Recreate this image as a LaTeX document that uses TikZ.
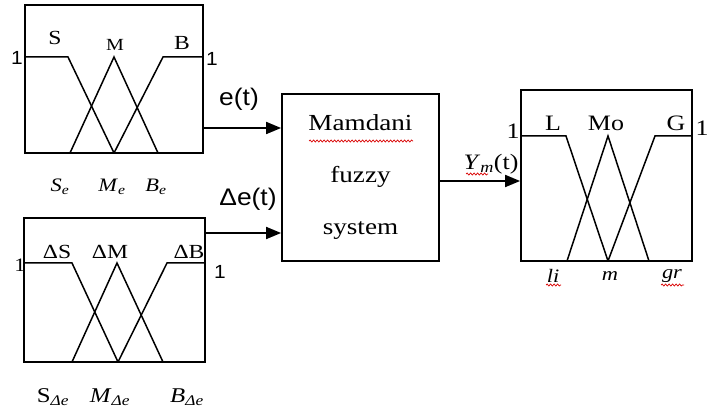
\documentclass[tikz,border=0pt]{standalone}
\usepackage{fontspec}
\setmainfont{Liberation Serif}[FakeStretch=1.18]
\newfontfamily\sigfont{Liberation Sans}[FakeStretch=1.1]
\usetikzlibrary{arrows.meta,decorations.pathmorphing}

\begin{document}
\begin{tikzpicture}[x=1pt, y=-1pt,
    plot/.style={draw, line width=1.8pt, inner sep=0pt},
    mf/.style={line width=1.5pt},
    arrow/.style={-{Triangle[length=15pt,width=12pt]}, line width=1.8pt},
    lbl/.style={font=\fontsize{20}{20}\selectfont, inner sep=0pt},
    sublbl/.style={font=\fontsize{19}{19}\selectfont, inner sep=0pt},
    sig/.style={font=\sigfont\fontsize{24}{24}\selectfont, inner sep=0pt},
    spell/.style={red!85!black, line width=0.7pt, decorate, decoration={snake, amplitude=1pt, segment length=3.5pt}}
]
    \useasboundingbox (0,0) rectangle (709,411);

    % Nodes
    \node [plot, minimum width=178pt, minimum height=148pt] (mfe) at (114,79) {};
    \node [plot, minimum width=181pt, minimum height=144pt] (mfde) at (114.5,290) {};
    \node [plot, minimum width=157pt, minimum height=167pt, align=center, font=\fontsize{23}{52}\selectfont] (mamdani) at (360.5,177.5) {Mamdani\\fuzzy\\system};
    \node [plot, minimum width=171pt, minimum height=171pt] (mfy) at (606.5,175.5) {};

    % membership functions of e
    \draw [mf] (25,57) -- (68,57) -- (114,153);
    \draw [mf] (70,153) -- (114,57) -- (158,153);
    \draw [mf] (114,153) -- (163,57) -- (203,57);
    \node [lbl] at (55,38) {S};
    \node [lbl, font=\fontsize{17}{17}\selectfont] at (115,45) {M};
    \node [lbl] at (182,43) {B};
    \node [sig, font=\sigfont\fontsize{19}{19}\selectfont] at (17,58) {1};
    \node [sig, font=\sigfont\fontsize{19}{19}\selectfont] at (212,59) {1};
    \node [sublbl] at (60,187) {\textit{S}\textsubscript{\textit{e}}};
    \node [sublbl] at (112,187) {\textit{M}\textsubscript{\textit{e}}};
    \node [sublbl] at (156,187) {\textit{B}\textsubscript{\textit{e}}};

    % membership functions of delta e
    \draw [mf] (24,263) -- (72,263) -- (118,362);
    \draw [mf] (72,362) -- (117,263) -- (163,362);
    \draw [mf] (118,362) -- (167,263) -- (205,263);
    \node [lbl] at (57,252) {ΔS};
    \node [lbl] at (110,252) {ΔM};
    \node [lbl] at (189,252) {ΔB};
    \node [lbl, font=\fontsize{19}{19}\selectfont] at (20,265) {1};
    \node [sig, font=\sigfont\fontsize{19}{19}\selectfont] at (220,272) {1};
    \node [lbl, font=\fontsize{21}{21}\selectfont] at (53,397) {S\textsubscript{\textit{Δe}}};
    \node [lbl, font=\fontsize{21}{21}\selectfont] at (110,397) {\textit{M}\textsubscript{\textit{Δe}}};
    \node [lbl, font=\fontsize{21}{21}\selectfont] at (187,397) {\textit{B}\textsubscript{\textit{Δe}}};

    % membership functions of output
    \draw [mf] (521,136) -- (566,136) -- (608,261);
    \draw [mf] (567,261) -- (608,136) -- (649,261);
    \draw [mf] (608,261) -- (655,136) -- (692,136);
    \node [lbl, font=\fontsize{22}{22}\selectfont] at (553,123) {L};
    \node [lbl, font=\fontsize{22}{22}\selectfont] at (606,123) {Mo};
    \node [lbl, font=\fontsize{22}{22}\selectfont] at (676,123) {G};
    \node [lbl, font=\fontsize{22}{22}\selectfont] at (513,131) {1};
    \node [lbl, font=\fontsize{22}{22}\selectfont] at (702,128) {1};
    \node [sublbl] at (553,276) {\textit{li}};
    \node [sublbl] at (610,276) {\textit{m}};
    \node [sublbl] at (672,276) {\textit{gr}};

    % Paths
    \coordinate (ein) at (0,128);
    \coordinate (dein) at (0,233);
    \coordinate (yout) at (0,181);
    \draw [arrow] (mfe.east |- ein) -- (mamdani.west |- ein);
    \draw [arrow] (mfde.east |- dein) -- (mamdani.west |- dein);
    \draw [arrow] (mamdani.east |- yout) -- (mfy.west |- yout);
    \node [sig] at (239,99) {e(t)};
    \node [sig] at (248,199) {Δe(t)};
    \node [lbl, font=\fontsize{22}{22}\selectfont] at (491,164) {\textit{Y}\textsubscript{\textit{m}}(t)};

    % spell-check marks
    \draw [spell] (309,141) -- (413,141);
    \draw [spell] (466,174) -- (488,174);
    \draw [spell] (546,285) -- (561,285);
    \draw [spell] (661,285) -- (684,285);
\end{tikzpicture}
\end{document}
